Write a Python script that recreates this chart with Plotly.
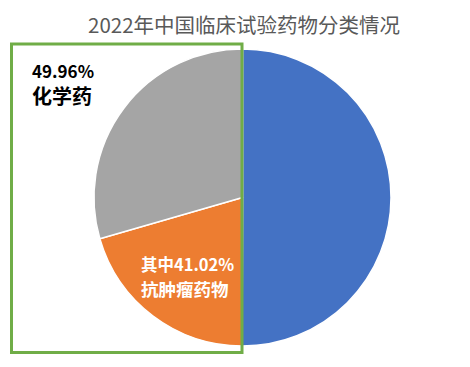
import plotly.graph_objects as go

# Data
labels = ["其他", "抗肿瘤药物", "化学药(其他)"]
values = [50.04, 20.49, 29.47]
colors = ["#4472C4", "#ED7D31", "#A5A5A5"]
chem_share = "49.96%"
antitumor_share = "41.02%"

# The page body adds an 8px offset, so the figure is 8px smaller and
# positions below are given in reference pixels minus 8.
OFF = 8
W, H = 470 - OFF, 367 - OFF
FONT = "Noto Sans CJK SC"


def px(x):
    return (x - OFF) / W


def py(y):
    return 1 - (y - OFF) / H


fig = go.Figure()
fig.add_trace(go.Pie(
    labels=labels, values=values, sort=False, direction="clockwise", rotation=0,
    marker=dict(colors=colors, line=dict(color="white", width=1.5)),
    textinfo="none", hoverinfo="label+percent", showlegend=False,
    domain=dict(x=[px(94), px(391)], y=[py(346), py(49)]),
))

# Green box around the left half
fig.add_shape(type="rect", xref="paper", yref="paper",
              x0=px(11.5), x1=px(242), y0=py(352.5), y1=py(44),
              line=dict(color="#70AD47", width=3), fillcolor="rgba(0,0,0,0)")

fig.add_annotation(x=px(30), y=py(70), xref="paper", yref="paper",
                   xanchor="left", yanchor="middle", showarrow=False,
                   text=f"<b>{chem_share}</b>",
                   font=dict(family=FONT, size=17, color="#000000"))
fig.add_annotation(x=px(30), y=py(96), xref="paper", yref="paper",
                   xanchor="left", yanchor="middle", showarrow=False,
                   text="<b>化学药</b>",
                   font=dict(family=FONT, size=20, color="#000000"))
fig.add_annotation(x=px(139), y=py(264), xref="paper", yref="paper",
                   xanchor="left", yanchor="middle", showarrow=False,
                   text=f"<b>其中{antitumor_share}</b>",
                   font=dict(family=FONT, size=16.5, color="#FFFFFF"))
fig.add_annotation(x=px(139), y=py(288), xref="paper", yref="paper",
                   xanchor="left", yanchor="middle", showarrow=False,
                   text="<b>抗肿瘤药物</b>",
                   font=dict(family=FONT, size=17.5, color="#FFFFFF"))

fig.add_annotation(x=px(244), y=py(24), xref="paper", yref="paper",
                   xanchor="center", yanchor="middle", showarrow=False,
                   text="2022年中国临床试验药物分类情况",
                   font=dict(family=FONT, size=20.5, color="#595959"))

fig.update_layout(
    width=W, height=H,
    margin=dict(l=0, r=0, t=0, b=0),
    paper_bgcolor="white", plot_bgcolor="white",
)

fig.write_html("out.html")
